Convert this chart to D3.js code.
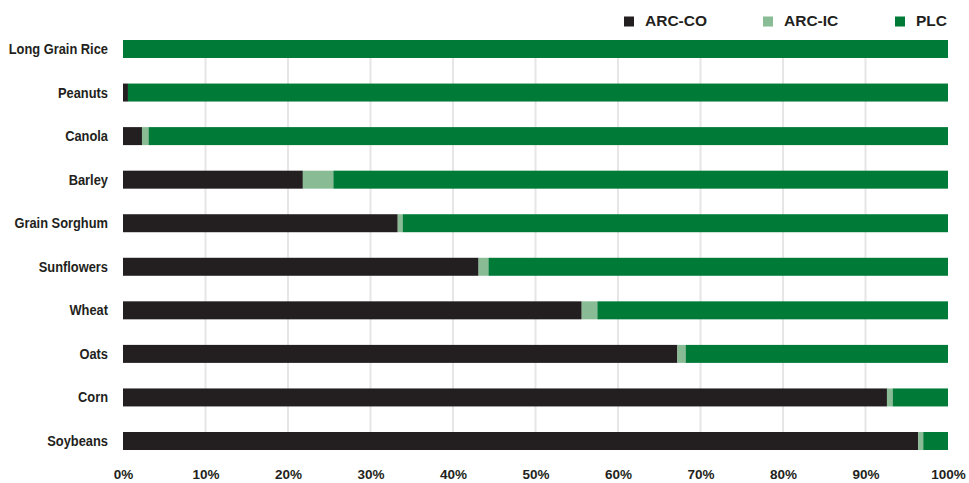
<!DOCTYPE html>
<html>
<head>
<meta charset="utf-8">
<script src="https://cdn.jsdelivr.net/npm/d3@7"></script>
<style>
    body { margin: 0; background: #fff; }
    svg { display: block; }
</style>
</head>
<body>
<div id="chart"></div>
<script>
// data (percent of enrolled acres)
const crops = ["Long Grain Rice", "Peanuts", "Canola", "Barley", "Grain Sorghum", "Sunflowers", "Wheat", "Oats", "Corn", "Soybeans"];
const arcCO = [0, 0.6, 2.3, 21.8, 33.3, 43.1, 55.6, 67.2, 92.6, 96.4];
const arcIC = [0, 0, 0.8, 3.7, 0.6, 1.2, 1.9, 1.0, 0.7, 0.6];
const plc = crops.map((c, i) => 100 - arcCO[i] - arcIC[i]);
const seriesNames = ["ARC-CO", "ARC-IC", "PLC"];
const seriesColors = ["#231f20", "#89bb94", "#007a37"];
const tickValues = [0, 10, 20, 30, 40, 50, 60, 70, 80, 90, 100];

const width = 969, height = 483;

const svg = d3.select("#chart")
    .append("svg")
    .attr("width", width)
    .attr("height", height);

// scales
const x = d3.scaleLinear()
    .domain([0, 100])
    .range([123, 948]);

const y = d3.scaleBand()
    .domain(crops)
    .range([40, 450])
    .paddingInner(0.587)
    .paddingOuter(0);

// gridlines
svg.append("g")
    .selectAll("line")
    .data(tickValues.filter(t => t > 0 && t < 100))
    .enter()
    .append("line")
    .attr("x1", d => x(d))
    .attr("x2", d => x(d))
    .attr("y1", 40)
    .attr("y2", 450)
    .attr("stroke", "#e6e6e6")
    .attr("stroke-width", 2);

// stacked bars
const rows = crops.map((c, i) => ({crop: c, "ARC-CO": arcCO[i], "ARC-IC": arcIC[i], "PLC": plc[i]}));
const stack = d3.stack().keys(seriesNames)(rows);

svg.append("g")
    .selectAll("g")
    .data(stack)
    .enter()
    .append("g")
    .attr("fill", (d, i) => seriesColors[i])
    .selectAll("rect")
    .data(d => d)
    .enter()
    .append("rect")
    .attr("x", d => x(d[0]))
    .attr("y", d => y(d.data.crop))
    .attr("width", d => x(d[1]) - x(d[0]))
    .attr("height", y.bandwidth());

// category labels (condensed look via horizontal scale)
svg.append("g")
    .attr("transform", "translate(108,0)")
    .call(d3.axisLeft(y).tickSize(0).tickPadding(0))
    .call(g => g.select(".domain").remove())
    .selectAll("text")
    .attr("transform", "scale(0.83,1)")
    .attr("font-family", "'Liberation Sans', Arial, sans-serif")
    .attr("font-weight", "bold")
    .attr("font-size", "15.5px")
    .attr("fill", "#231f20");

// x axis
svg.append("g")
    .attr("transform", "translate(0,465)")
    .call(d3.axisBottom(x).tickValues(tickValues).tickFormat(d => d + "%").tickSize(0).tickPadding(0))
    .call(g => g.select(".domain").remove())
    .selectAll("text")
    .attr("dy", "1em")
    .attr("font-family", "'Liberation Sans', Arial, sans-serif")
    .attr("font-weight", "bold")
    .attr("font-size", "13.5px")
    .attr("fill", "#231f20");

// legend
const legendX = [624, 763, 895];
const legend = svg.append("g")
    .selectAll("g")
    .data(seriesNames)
    .enter()
    .append("g")
    .attr("transform", (d, i) => `translate(${legendX[i]},16.5)`);

legend.append("rect")
    .attr("width", 10)
    .attr("height", 10)
    .attr("fill", (d, i) => seriesColors[i]);

legend.append("text")
    .attr("x", 21)
    .attr("y", 9.5)
    .attr("font-family", "'Liberation Sans', Arial, sans-serif")
    .attr("font-weight", "bold")
    .attr("font-size", "15.5px")
    .attr("fill", "#231f20")
    .text(d => d);
</script>
</body>
</html>
